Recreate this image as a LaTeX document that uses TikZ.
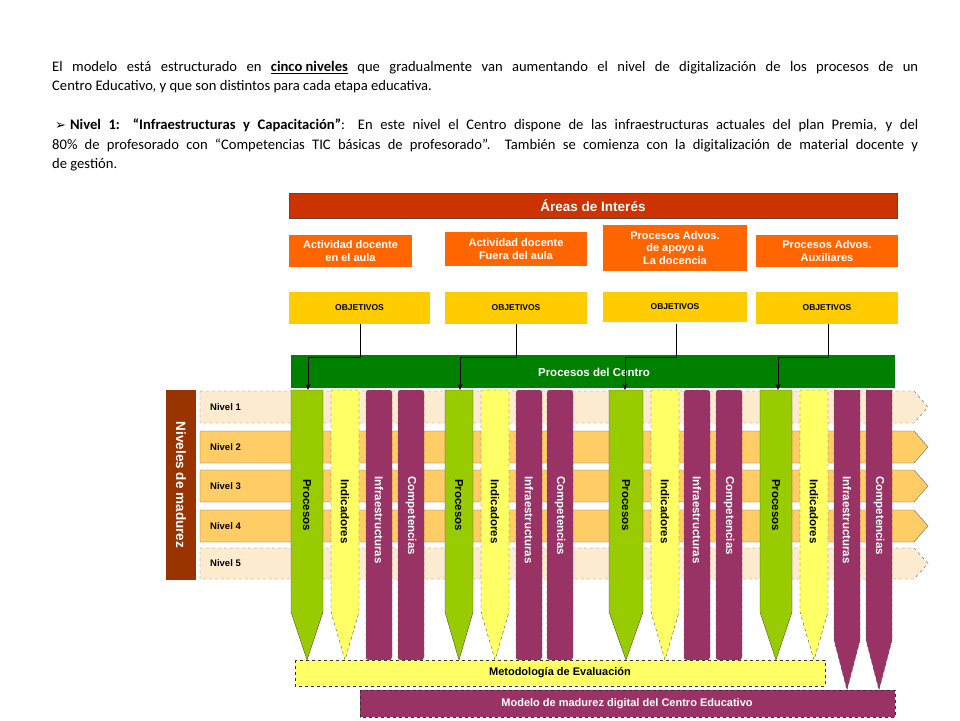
\documentclass[tikz,border=0pt]{standalone}
\usepackage{fontspec}
\setmainfont{Carlito}
\newfontfamily\arial{Liberation Sans}
\newfontfamily\djv{DejaVu Sans}
\usetikzlibrary{arrows.meta}
\definecolor{cred}{HTML}{CC3300}
\definecolor{corange}{HTML}{FF6600}
\definecolor{cyel}{HTML}{FFCC00}
\definecolor{cdgreen}{HTML}{008000}
\definecolor{clgreen}{HTML}{99CC00}
\definecolor{cly}{HTML}{FFFF66}
\definecolor{cpur}{HTML}{993366}
\definecolor{cbrown}{HTML}{993300}
\definecolor{clev}{HTML}{FFCC66}
\definecolor{clevl}{HTML}{FDEBD0}
\tikzset{
 hdr/.style={font=\arial\bfseries\fontsize{11}{12.5}\selectfont, text=white, align=center, inner sep=0},
 obj/.style={font=\arial\bfseries\fontsize{8.5}{10}\selectfont, inner sep=0},
 coltxt/.style={font=\arial\bfseries\fontsize{11.5}{13}\selectfont, rotate=-90, anchor=west, inner sep=0},
 nivtxt/.style={font=\arial\bfseries\fontsize{9.5}{11}\selectfont, inner sep=0},
 conn/.style={draw=black, line width=0.8pt},
}
\newcommand\pcol[8]{%
 \draw[fill=#5, draw=black!70, #6] (#1,390) -- (#2,390) -- (#2,#3) -- ({(#1+#2)/2},#4) -- (#1,#3) -- cycle;
 \node[coltxt, text=#7] at ({(#1+#2)/2},479) {#8};}
\newcommand\rcol[4]{%
 \draw[fill=cpur, draw=black!70, dashed, rounded corners=3pt] (#1,390) rectangle (#2,#3);
 \node[coltxt, text=white] at ({(#1+#2)/2},476) {#4};}
\newcommand\tcol[3]{%
 \draw[fill=cpur, draw=black!70, dashed] (#1,390) -- (#2,390) -- (#2,640) -- ({(#1+#2)/2},690) -- (#1,640) -- cycle;
 \node[coltxt, text=white] at ({(#1+#2)/2},476) {#3};}
\begin{document}
\begin{tikzpicture}[x=1pt,y=-1pt]
\useasboundingbox (0,0) rectangle (960,720);
\node[anchor=north west, inner sep=0, text width=866pt, align=justify, font=\fontsize{14.6}{19.5}\selectfont] (txt) at (52,61) {\hyphenpenalty=10000\exhyphenpenalty=10000%
El modelo está estructurado en \underline{\textbf{cinco niveles}} que gradualmente van aumentando el nivel de digitalización de los procesos de un\linebreak Centro Educativo, y que son distintos para cada etapa educativa.\par\vspace{19.5pt}
\hspace*{3pt}{\djv\fontsize{13}{13}\selectfont ➢}\hspace{4pt}\textbf{Nivel 1: “Infraestructuras y Capacitación”}: En este nivel el Centro dispone de las infraestructuras actuales del plan Premia, y del\linebreak 80\% de profesorado con “Competencias TIC básicas de profesorado”.\ \ También se comienza con la digitalización de material docente y\linebreak de gestión.\par};
\draw[fill=cred, draw=black!70] (289,193) rectangle (897,218);
\node[hdr, font=\arial\bfseries\fontsize{13.5}{15}\selectfont] (areas) at (593,205.5) {Áreas de Interés};
\fill[corange] (289,235) rectangle (412,267); \node[hdr] (o1) at (350.5,251) {Actividad docente\\en el aula};
\fill[corange] (445,232) rectangle (587,266); \node[hdr] (o2) at (516,249) {Actividad docente\\Fuera del aula};
\fill[corange] (603,225) rectangle (747,271); \node[hdr] (o3) at (675,248) {Procesos Advos.\\de apoyo a\\La docencia};
\fill[corange] (756,235) rectangle (898,267); \node[hdr] (o4) at (827,251) {Procesos Advos.\\Auxiliares};
\fill[cyel] (289,292) rectangle (430,324); \node[obj] (b1) at (359.5,308) {OBJETIVOS};
\fill[cyel] (445,292) rectangle (587,324); \node[obj] (b2) at (516,308) {OBJETIVOS};
\fill[cyel] (603,292) rectangle (747,322); \node[obj] (b3) at (675,307) {OBJETIVOS};
\fill[cyel] (756,292) rectangle (898,324); \node[obj] (b4) at (827,308) {OBJETIVOS};
\foreach \ya/\yb/\fc/\st/\lab in {391/423/clevl/dashed/1, 431/463/clev/solid/2, 470/502/clev/solid/3, 510/542/clev/solid/4, 548/579/clevl/dashed/5}{
 \draw[fill=\fc, draw=black!60, \st] (200,\ya) -- (914,\ya) -- (928,{(\ya+\yb)/2}) -- (914,\yb) -- (200,\yb) -- cycle;
 \node[nivtxt, anchor=west] (niv\lab) at (210,{(\ya+\yb)/2}) {Nivel \lab};
}
\fill[cbrown] (166,390) rectangle (196,580);
\node[font=\arial\bfseries\fontsize{13.5}{15}\selectfont, text=white, rotate=-90, inner sep=0] (niveles) at (181,485) {Niveles de madurez};
\fill[cdgreen] (291,355) rectangle (895,388);
\node[hdr, font=\arial\bfseries\fontsize{11.5}{13}\selectfont] (proc) at (594,372) {Procesos del Centro};
\foreach \a/\b/\c/\d/\e/\f/\g/\h in {291/323/331/359/366/392/398/424, 445/473/481/509/516/542/547/573, 609/643/651/679/684/710/716/742}{
 \pcol{\a}{\b}{612}{660}{clgreen}{solid}{black}{Procesos}
 \pcol{\c}{\d}{612}{660}{cly}{dashed}{black}{Indicadores}
 \rcol{\e}{\f}{660}{Infraestructuras}
 \rcol{\g}{\h}{660}{Competencias}
}
\pcol{760}{792}{612}{660}{clgreen}{solid}{black}{Procesos}
\pcol{800}{828}{612}{660}{cly}{dashed}{black}{Indicadores}
\tcol{834}{860}{Infraestructuras}
\tcol{866}{892}{Competencias}
\coordinate (g1) at (308,390); \coordinate (g2) at (460,390); \coordinate (g3) at (625,390); \coordinate (g4) at (778,390);
\foreach \i/\x/\gx in {1/360/308, 2/516/460, 3/676/625, 4/828/778}{
 \draw[conn, -{Stealth[length=6pt,width=5pt]}] (\x,324) -- (\x,357) -- (\gx,357) -- (g\i);
}
\draw[fill=cly, draw=black!80, dashed] (295,660) rectangle (825,686);
\node[font=\arial\bfseries\fontsize{11}{12}\selectfont, inner sep=0] (met) at (560,673) {Metodología de Evaluación};
\draw[fill=cpur, draw=black!80, dashed] (360,690) rectangle (895,717);
\node[font=\arial\bfseries\fontsize{11}{12}\selectfont, text=white, inner sep=0] (mod) at (627,703.5) {Modelo de madurez digital del Centro Educativo};
\end{tikzpicture}
\end{document}
